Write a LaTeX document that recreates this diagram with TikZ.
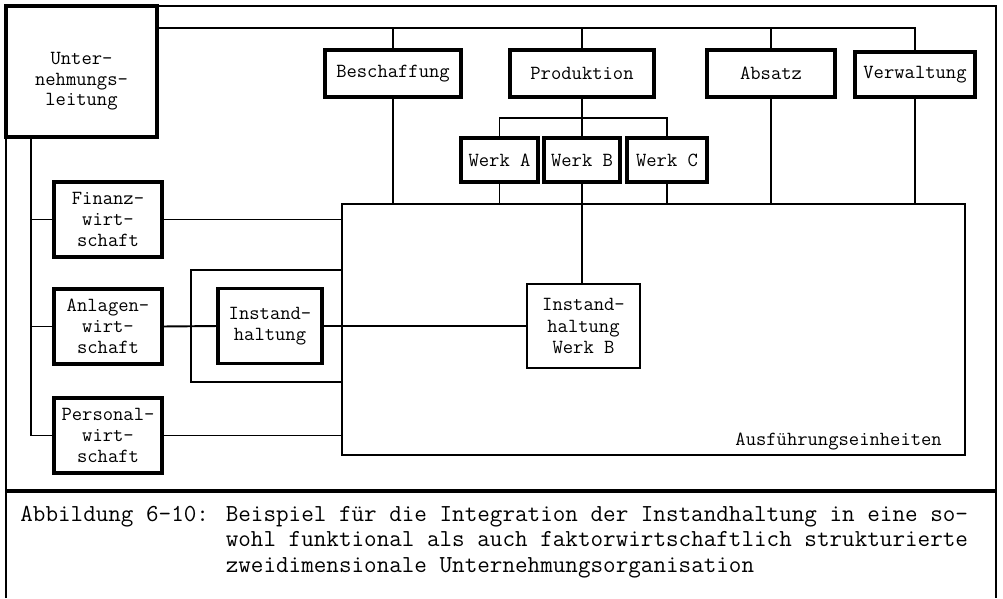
\documentclass[tikz,border=0pt]{standalone}
\usetikzlibrary{positioning}
\tikzstyle{orgbox} = [rectangle, draw=black, line width=1.8pt, outer sep=0pt, inner sep=2pt, align=center, text centered, font=\fontsize{11.4}{12}\selectfont\ttfamily]
\tikzstyle{link} = [line width=1.1pt]
\tikzstyle{frame} = [line width=1.2pt]

\begin{document}
\begin{tikzpicture}[x=0.2mm, y=-0.2mm]
        \useasboundingbox (0,0) rectangle (1003,598);
        % outer frame and caption divider
        \draw [frame] (6,598) -- (6,6) -- (996,6) -- (996,598);
        \draw [line width=1.8pt] (6,491) -- (996,491);

        \node (leitung) [orgbox, line width=2.3pt, minimum width=30.2mm, minimum height=26.2mm] at (81.5,71.5) {};
        \node (leitungtext) [align=center, font=\fontsize{11.4}{11.6}\selectfont\ttfamily] at ([yshift=-2mm] leitung.center) {Unter-\\nehmungs-\\leitung};

        % functional units
        \node (beschaffung) [orgbox, minimum width=27.2mm, minimum height=9.4mm] at (393,73.5) {Beschaffung};
        \node (produktion) [orgbox, minimum width=28.8mm, minimum height=9.4mm] at (582,73.5) {Produktion};
        \node (absatz) [orgbox, minimum width=25.6mm, minimum height=9.4mm] at (771,73.5) {Absatz};
        \node (verwaltung) [orgbox, minimum width=24mm, minimum height=9mm] at (915,74.5) {Verwaltung};

        \node (werkB) [orgbox, minimum width=15.2mm, minimum height=8.8mm] at (582,160) {Werk B};
        \node (werkA) [orgbox, minimum width=15.4mm, minimum height=8.8mm, left=1.2mm of werkB] {Werk A};
        \node (werkC) [orgbox, minimum width=16mm, minimum height=8.8mm, right=1.4mm of werkB] {Werk C};

        % factor units
        \node (finanz) [orgbox, minimum width=21.6mm, minimum height=15mm] at (108,219.5) {Finanz-\\wirt-\\schaft};
        \node (anlagen) [orgbox, minimum width=21.6mm, minimum height=15mm, below=6.4mm of finanz] {Anlagen-\\wirt-\\schaft};
        \node (personal) [orgbox, minimum width=21.6mm, minimum height=15mm, below=6.8mm of anlagen] {Personal-\\wirt-\\schaft};
        \node (ih) [orgbox, minimum width=20.8mm, minimum height=15mm] at (270,326) {Instand-\\haltung};

        \node (ausf) [orgbox, line width=1.6pt, minimum width=124.6mm, minimum height=50.2mm] at (653.5,329.5) {};
        \node (ihb) [orgbox, line width=1.2pt, fill=white, minimum width=22.6mm, minimum height=16.8mm] at (583.5,326) {Instand-\\haltung\\Werk B};
        \node (ausflabel) [anchor=base east, font=\fontsize{11.4}{12}\selectfont\ttfamily] at ([xshift=-3.4mm, yshift=2mm] ausf.south east) {Ausführungseinheiten};

        \coordinate (bus) at (0,28);
        \coordinate (werkbus) at (0,118);
        \coordinate (spine) at (31,0);
        \coordinate (brtop) at (191,270);
        \coordinate (brbot) at (191,382);

        % top bus
        \draw [link] (leitung.east |- bus) -| (verwaltung.north);
        \foreach \n in {beschaffung,produktion,absatz}
            \draw [link] (\n.north) -- (\n.north |- bus);
        \foreach \n in {beschaffung,werkA,werkC,absatz,verwaltung}
            \draw [link] (\n.south) -- (\n.south |- ausf.north);
        \draw [link] (werkA.north) -- (werkA.north |- werkbus) -- (werkC.north |- werkbus) -- (werkC.north);
        \draw [link] (produktion.south) -- (werkB.north);
        \draw [link] (werkB.south) -- (werkB.south |- ihb.north);

        % left spine
        \draw [link] (leitung.south -| spine) |- (personal.west);
        \draw [link] (spine |- finanz.west) -- (finanz.west);
        \draw [link] (spine |- anlagen.west) -- (anlagen.west);
        \draw [link] (finanz.east) -- (finanz.east -| ausf.west);
        \draw [link] (personal.east) -- (personal.east -| ausf.west);
        \draw [link] (anlagen.east) -- (ih.west);
        \draw [link] (ih.east) -- (ihb.west |- ih.east);
        \draw [link] (brtop -| ausf.west) -- (brtop) -- (brbot) -- (brbot -| ausf.west);

        % caption
        \node (caption) [anchor=north west, inner sep=0pt, align=left, font=\fontsize{13.9}{14.4}\selectfont\ttfamily] at (20,506)
            {Abbildung 6-10: Beispiel für die Integration der Instandhaltung in eine so-\\
             \hphantom{Abbildung 6-10: }wohl funktional als auch faktorwirtschaftlich strukturierte\\
             \hphantom{Abbildung 6-10: }zweidimensionale Unternehmungsorganisation};
\end{tikzpicture}
\end{document}
